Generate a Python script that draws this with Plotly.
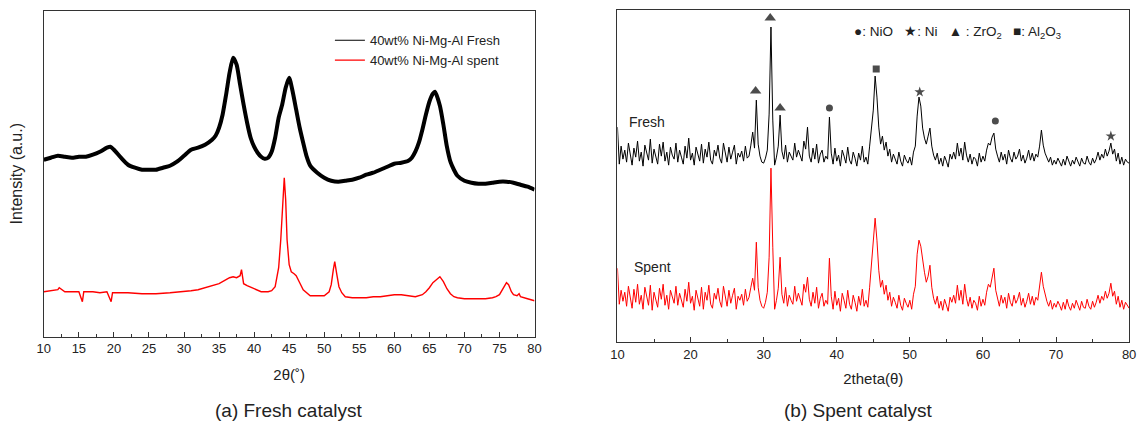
import plotly.graph_objects as go

# ---------------- (a) Fresh catalyst panel ----------------
a_fresh_x = [10, 11, 12, 13, 14, 15, 16, 17, 18, 19, 19.5, 20, 21, 22, 23, 24, 25, 26, 27, 28, 29, 30,
             31, 32, 33, 34, 34.5, 35, 35.5, 36, 36.5, 37, 37.5, 38, 38.5, 39, 39.5, 40, 40.5, 41, 41.5,
             42, 42.5, 43, 43.5, 44, 44.5, 45, 45.5, 46, 46.5, 47, 47.5, 48, 49, 50, 51, 52, 53, 54, 55,
             56, 57, 58, 59, 60, 61, 62, 62.5, 63, 63.5, 64, 64.5, 65, 65.5, 65.8, 66.5, 67, 67.5, 68,
             68.5, 69, 70, 71, 72, 73, 74, 75, 76, 77, 78, 79, 80]
a_fresh_y = [177, 179, 181, 180, 179, 180, 180, 182, 185, 189, 190, 187, 179, 172, 169, 167, 167, 167,
             169, 171, 175, 181, 187, 189, 192, 197, 201, 209, 222, 242, 264, 279, 272, 252, 232, 214,
             199, 190, 184, 180, 178, 179, 185, 199, 219, 232, 249, 259, 245, 227, 209, 194, 180, 171,
             164, 159, 156, 155, 156, 157, 159, 162, 164, 167, 170, 173, 174, 176, 179, 185, 194, 207,
             222, 235, 243, 245, 231, 212, 190, 175, 167, 161, 156, 154, 153, 153, 154, 155, 155, 154,
             152, 150, 147]

a_spent_x = [10, 11, 12, 12.2, 13, 14, 15, 15.5, 15.7, 16, 17, 18, 19, 19.6, 19.8, 20, 22, 24, 26, 28,
             30, 31, 32, 33, 34, 35, 36, 36.5, 37, 37.5, 38, 38.2, 38.5, 39, 40, 41, 42, 42.5, 43, 43.5,
             43.8, 44.1, 44.3, 44.5, 44.7, 45, 45.3, 45.7, 46, 46.5, 47, 48, 49, 50, 50.7, 51, 51.3,
             51.5, 51.8, 52.1, 52.5, 53, 54, 55, 56, 57, 58, 59, 60, 61, 62, 63, 64, 64.5, 65, 65.5,
             66, 66.5, 67, 67.5, 68, 68.5, 69, 70, 71, 72, 73, 74, 74.5, 75, 75.5, 76, 76.3, 76.7, 77,
             77.5, 77.8, 78, 79, 80]
a_spent_y = [45, 46, 47, 49, 45, 45, 45, 35, 45, 45, 45, 44, 45, 35, 44, 44, 44, 43, 43, 44,
             45, 46, 47, 49, 51, 53, 57, 59, 60, 59, 61, 67, 53, 51, 48, 45, 45, 46, 50, 69,
             97, 137, 159, 137, 97, 72, 65, 63, 61, 54, 47, 41, 41, 41, 45, 52, 67,
             75, 62, 50, 44, 40, 39, 39, 39, 40, 40, 41, 42, 42, 41, 40, 42, 45, 49, 54,
             57, 60, 55, 48, 43, 40, 39, 38, 38, 38, 38, 39, 40, 42, 48, 54, 52, 45, 42,
             41, 43, 40, 38, 36]

a_legend_names = ["40wt% Ni-Mg-Al Fresh", "40wt% Ni-Mg-Al spent"]
a_ticks = [10, 15, 20, 25, 30, 35, 40, 45, 50, 55, 60, 65, 70, 75, 80]

# ---------------- (b) Spent catalyst panel ----------------
b_two_theta = [round(10 + 0.25 * i, 2) for i in range(281)]  # 0.25 deg scan grid
b_fresh_y = [
    215, 178, 196, 183, 192, 180, 199, 186, 177, 194, 185, 201, 181, 190, 176, 197,
    188, 182, 203, 179, 193, 184, 178, 198, 186, 200, 181, 190, 177, 195, 187, 183,
    199, 180, 192, 185, 178, 196, 184, 204, 182, 189, 177, 195, 187, 181, 198, 179,
    193, 185, 200, 182, 178, 192, 186, 197, 184, 179, 199, 188, 180, 195, 183, 190,
    197, 178, 189, 185, 191, 181, 196, 184, 186, 197, 210, 194, 242, 198, 186, 180,
    179, 184, 192, 228, 315, 222, 177, 185, 196, 227, 191, 183, 197, 180, 190, 186,
    182, 199, 185, 192, 187, 181, 201, 193, 215, 186, 180, 194, 183, 198, 179, 188,
    192, 180, 186, 183, 225, 189, 178, 194, 181, 187, 176, 192, 186, 179, 195, 182,
    178, 190, 184, 176, 189, 182, 196, 180, 185, 178, 196, 214, 232, 266, 245, 215,
    198, 206, 192, 200, 186, 193, 180, 188, 183, 178, 190, 181, 176, 187, 182, 179,
    185, 177, 190, 196, 226, 245, 236, 214, 204, 198, 206, 214, 196, 187, 182, 189,
    178, 184, 176, 186, 181, 175, 188, 183, 190, 183, 199, 186, 194, 182, 200, 187,
    180, 188, 178, 185, 183, 176, 189, 180, 186, 181, 192, 199, 197, 205, 209, 193,
    186, 180, 190, 182, 188, 178, 192, 184, 180, 190, 183, 186, 193, 181, 187, 179,
    184, 192, 182, 189, 181, 188, 185, 196, 212, 197, 189, 184, 180, 185, 177, 182,
    178, 184, 180, 176, 183, 177, 186, 180, 176, 182, 178, 185, 181, 176, 184, 179,
    178, 186, 180, 177, 184, 179, 183, 190, 182, 188, 184, 193, 186, 191, 199, 188,
    193, 181, 189, 178, 185, 177, 183, 180, 179]
b_spent_y = [
    74, 38, 52, 41, 50, 36, 56, 44, 34, 53, 40, 58, 38, 47, 33, 55,
    44, 37, 57, 32, 50, 41, 35, 54, 43, 58, 37, 47, 33, 52, 44, 39,
    56, 37, 49, 42, 35, 53, 41, 60, 39, 46, 32, 52, 44, 36, 55, 33,
    50, 42, 57, 38, 34, 49, 43, 54, 41, 35, 56, 45, 36, 52, 39, 47,
    54, 33, 46, 42, 48, 37, 53, 41, 45, 55, 64, 52, 100, 55, 42, 36,
    34, 40, 50, 85, 174, 95, 33, 42, 54, 85, 48, 39, 55, 36, 47, 42,
    38, 56, 41, 49, 44, 37, 58, 50, 65, 43, 36, 50, 39, 55, 34, 44,
    49, 36, 42, 38, 84, 46, 33, 51, 37, 44, 31, 49, 42, 34, 52, 38,
    33, 47, 40, 31, 46, 37, 53, 36, 42, 35, 55, 76, 98, 124, 102, 72,
    55, 62, 48, 57, 42, 50, 36, 45, 40, 34, 47, 37, 32, 44, 39, 35,
    42, 33, 48, 56, 88, 102, 96, 82, 70, 60, 66, 77, 55, 44, 38, 46,
    34, 41, 32, 43, 37, 31, 45, 40, 47, 39, 57, 42, 52, 38, 58, 44,
    36, 45, 34, 42, 39, 32, 46, 36, 43, 37, 50, 58, 55, 64, 74, 52,
    44, 36, 47, 39, 45, 34, 49, 40, 36, 47, 39, 43, 50, 37, 44, 35,
    41, 49, 38, 46, 37, 45, 42, 55, 70, 56, 47, 41, 36, 42, 33, 39,
    35, 41, 37, 32, 40, 33, 43, 36, 32, 39, 34, 42, 37, 32, 41, 35,
    34, 43, 36, 33, 41, 35, 40, 47, 39, 46, 42, 51, 44, 49, 59, 46,
    51, 38, 46, 35, 42, 33, 40, 37, 34]

b_marker_x = [30.9, 28.9, 32.25, 39.0, 45.4, 51.35, 61.7, 77.5]
b_marker_y = [324, 251, 234, 234, 273, 250, 221, 206]
b_marker_phase = ["ZrO2", "ZrO2", "ZrO2", "NiO", "Al2O3", "Ni", "NiO", "Ni"]
b_ticks = [10, 20, 30, 40, 50, 60, 70, 80]

# ---------------- styles ----------------
FONT = "Arial, Liberation Sans, sans-serif"
AX = "#333333"
phase_symbol = {"ZrO2": "triangle-up", "NiO": "circle", "Al2O3": "square", "Ni": "star"}
phase_size = {"ZrO2": 10, "NiO": 7, "Al2O3": 7, "Ni": 8}

fig = go.Figure()

fig.add_trace(go.Scatter(x=a_fresh_x, y=a_fresh_y, mode="lines",
                         line=dict(color="black", width=4, shape="spline", smoothing=0.6),
                         showlegend=False, xaxis="x", yaxis="y", hoverinfo="skip"))
fig.add_trace(go.Scatter(x=a_spent_x, y=a_spent_y, mode="lines", line=dict(color="#ff0000", width=1.4),
                         showlegend=False, xaxis="x", yaxis="y", hoverinfo="skip"))
# legend entries (thin samples as in the original)
fig.add_trace(go.Scatter(x=[None], y=[None], mode="lines", line=dict(color="black", width=1.2),
                         name=a_legend_names[0], xaxis="x", yaxis="y"))
fig.add_trace(go.Scatter(x=[None], y=[None], mode="lines", line=dict(color="#ff0000", width=1.2),
                         name=a_legend_names[1], xaxis="x", yaxis="y"))

fig.add_trace(go.Scatter(x=b_two_theta, y=b_fresh_y, mode="lines", line=dict(color="black", width=1),
                         showlegend=False, xaxis="x2", yaxis="y2", hoverinfo="skip"))
fig.add_trace(go.Scatter(x=b_two_theta, y=b_spent_y, mode="lines", line=dict(color="#ff0000", width=1),
                         showlegend=False, xaxis="x2", yaxis="y2", hoverinfo="skip"))
fig.add_trace(go.Scatter(x=b_marker_x, y=b_marker_y, mode="markers",
                         marker=dict(color="black", symbol=[phase_symbol[p] for p in b_marker_phase],
                                     size=[phase_size[p] for p in b_marker_phase], line=dict(width=0)),
                         showlegend=False, xaxis="x2", yaxis="y2", hoverinfo="skip"))

common_x = dict(showline=True, linecolor=AX, linewidth=1.3, mirror=True, ticks="inside", ticklen=5,
                tickcolor=AX, tickwidth=1, showgrid=False, zeroline=False,
                tickfont=dict(family=FONT, size=13, color="#222"))
common_y = dict(showline=True, linecolor=AX, linewidth=1.3, mirror=True, ticks="", showticklabels=False,
                showgrid=False, zeroline=False)

fig.update_layout(
    width=1147, height=422, margin=dict(l=0, r=0, t=0, b=0),
    paper_bgcolor="white", plot_bgcolor="white",
    font=dict(family=FONT, color="#222"),
    xaxis=dict(domain=[0.0325, 0.4656], range=[10, 80], tickvals=a_ticks, anchor="y",
               minor=dict(ticks="inside", ticklen=3, dtick=2.5, tick0=10, tickcolor=AX),
               title=dict(text="2θ(˚)", font=dict(size=15, family=FONT), standoff=14), **common_x),
    yaxis=dict(domain=[0.2021, 0.9746], range=[0, 326], anchor="x",
               title=dict(text="Intensity (a.u.)", font=dict(size=16, family=FONT), standoff=16), **common_y),
    xaxis2=dict(domain=[0.5388, 0.9904], range=[10, 80], tickvals=b_ticks, anchor="y2",
                minor=dict(ticks="inside", ticklen=3, dtick=5, tick0=10, tickcolor=AX),
                title=dict(text="2theta(θ)", font=dict(size=15, family=FONT), standoff=12), **common_x),
    yaxis2=dict(domain=[0.1889, 0.9763], range=[0, 332], anchor="x2", **common_y),
    legend=dict(x=0.285, y=0.94, xanchor="left", yanchor="top", bgcolor="rgba(0,0,0,0)",
                font=dict(family=FONT, size=13, color="#222"), tracegroupgap=0, itemwidth=30),
    showlegend=True,
)

fig.add_annotation(xref="x2", yref="y2", x=11.3, y=220, text="Fresh", showarrow=False, xanchor="left",
                   font=dict(family=FONT, size=14, color="#222"))
fig.add_annotation(xref="x2", yref="y2", x=12.0, y=75, text="Spent", showarrow=False, xanchor="left",
                   font=dict(family=FONT, size=14, color="#222"))
fig.add_annotation(xref="paper", yref="paper", x=855 / 1147, y=1 - 33 / 422, xanchor="left", yanchor="middle",
                   text="●: NiO   ★: Ni   ▲ : ZrO<sub>2</sub>   ■: Al<sub>2</sub>O<sub>3</sub>",
                   showarrow=False, font=dict(family=FONT, size=13.5, color="#222"))
fig.add_annotation(xref="paper", yref="paper", x=285 / 1147, y=1 - 410 / 422, xanchor="center", yanchor="middle",
                   text="(a) Fresh catalyst", showarrow=False, font=dict(family=FONT, size=19, color="#222"))
fig.add_annotation(xref="paper", yref="paper", x=862 / 1147, y=1 - 410 / 422, xanchor="center", yanchor="middle",
                   text="(b) Spent catalyst", showarrow=False, font=dict(family=FONT, size=19, color="#222"))

fig.write_html("out.html")
